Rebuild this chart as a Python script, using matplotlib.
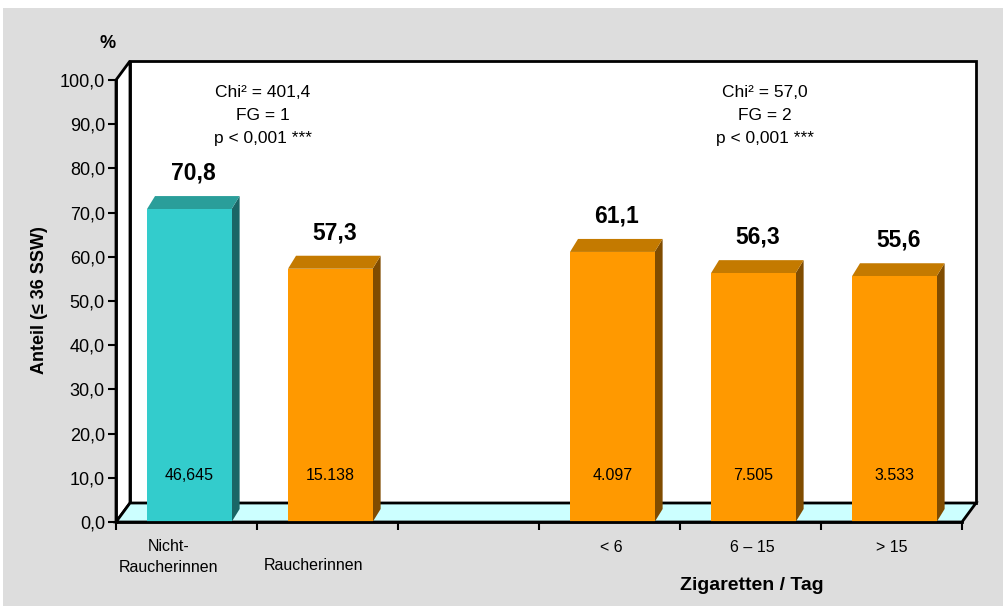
import matplotlib.pyplot as plt
from matplotlib.patches import Polygon, Rectangle
import matplotlib.transforms as mtransforms

plt.rcParams['font.family'] = ['Liberation Sans', 'DejaVu Sans']

# ------------------------------
# Data
# ------------------------------
categories = ["Nicht-\nRaucherinnen", "Raucherinnen", "", "< 6", "6 – 15", "> 15"]
slots = [0, 1, 3, 4, 5]
values = [70.8, 57.3, 61.1, 56.3, 55.6]
value_labels = ["70,8", "57,3", "61,1", "56,3", "55,6"]
n_labels = ["46,645", "15.138", "4.097", "7.505", "3.533"]
chi_left = "Chi² = 401,4\nFG = 1\np < 0,001 ***"
chi_right = "Chi² = 57,0\nFG = 2\np < 0,001 ***"
yticks = [0, 10, 20, 30, 40, 50, 60, 70, 80, 90, 100]

# colours: front, top, side
TEAL = ("#33CCCC", "#2A9E9A", "#1A6666")
ORANGE = ("#FF9900", "#C47A00", "#804C00")
bar_colors = [TEAL, ORANGE, ORANGE, ORANGE, ORANGE]

W, H = 1004, 606
fig = plt.figure(figsize=(W / 100, H / 100), dpi=100)
fig.patch.set_facecolor("white")
fig.patches.append(Rectangle((3 / W, 0), 1, 1 - 8 / H, transform=fig.transFigure,
                             facecolor="#DDDDDD", edgecolor="none", zorder=-10))

# front plane of the chart
L, R, B, T = 116, 962, 522, 80
ax = fig.add_axes([L / W, (H - B) / H, (R - L) / W, (B - T) / H])
ax.set_xlim(0, 6)
ax.set_ylim(0, 100)
ax.patch.set_alpha(0)

pxx = (R - L) / 6.0     # px per x unit
pxy = (B - T) / 100.0   # px per y unit
fdx, fdy = 14 / pxx, 19 / pxy   # depth of the floor / walls
bdx, bdy = 8 / pxx, 13 / pxy    # depth of the bars

# walls and floor
ax.add_patch(Polygon([(fdx, fdy), (6 + fdx, fdy), (6 + fdx, 100 + fdy), (fdx, 100 + fdy)],
                     closed=True, facecolor="white", edgecolor="black", lw=2, clip_on=False, zorder=1))
ax.add_patch(Polygon([(0, 0), (fdx, fdy), (fdx, 100 + fdy), (0, 100)],
                     closed=True, facecolor="white", edgecolor="black", lw=2, clip_on=False, zorder=1))
ax.add_patch(Polygon([(0, 0), (6, 0), (6 + fdx, fdy), (fdx, fdy)],
                     closed=True, facecolor="#CCFFFF", edgecolor="black", lw=2, clip_on=False, zorder=1))

# bars
bw = 0.6
for s, v, c in zip(slots, values, bar_colors):
    x0 = s + 0.5 - bw / 2 + 0.02
    x1 = x0 + bw
    ax.add_patch(Polygon([(x1, 0), (x1 + bdx, bdy), (x1 + bdx, v + bdy), (x1, v)],
                         closed=True, facecolor=c[2], edgecolor="none", clip_on=False, zorder=3))
    ax.add_patch(Polygon([(x0, v), (x1, v), (x1 + bdx, v + bdy), (x0 + bdx, v + bdy)],
                         closed=True, facecolor=c[1], edgecolor="none", clip_on=False, zorder=3))
    ax.add_patch(Rectangle((x0, 0), bw, v, facecolor=c[0], edgecolor="none", clip_on=False, zorder=4))

for s, v, lab, nl in zip(slots, values, value_labels, n_labels):
    xc = s + 0.5 + 0.02
    ax.text(xc + 4 / pxx, v + 36 / pxy, lab, ha="center", va="center",
            fontsize=16.5, fontweight="bold", zorder=5)
    ax.text(xc, 47 / pxy, nl, ha="center", va="center", fontsize=11.5, zorder=5)

ax.text(1.04, 92.0, chi_left, ha="center", va="center", fontsize=12.5, linespacing=1.65, zorder=5)
ax.text(4.6, 92.0, chi_right, ha="center", va="center", fontsize=12.5, linespacing=1.65, zorder=5)

# axes
for side in ["top", "right"]:
    ax.spines[side].set_visible(False)
for side in ["left", "bottom"]:
    ax.spines[side].set_linewidth(2)
    ax.spines[side].set_zorder(6)
ax.set_yticks(yticks)
ax.set_yticklabels([f"{t:.1f}".replace(".", ",") for t in yticks], fontsize=13)
ax.set_xticks(range(7))
ax.set_xticklabels([])
ax.tick_params(axis="both", direction="out", length=6, width=1.5, color="black")
ax.tick_params(axis="y", pad=2)

# category labels
trans = mtransforms.blended_transform_factory(ax.transData, ax.transAxes)
cat_shift = [-0.13, -0.1, 0, 0.01, 0.015, 0.005]
cat_y = [557, 566, 547, 547, 547, 547]
for i, (cat, sh, yp) in enumerate(zip(categories, cat_shift, cat_y)):
    if not cat:
        continue
    ax.text(i + 0.5 + sh, -(yp - B) / (B - T), cat, transform=trans, ha="center",
            va="center", fontsize=11.5, linespacing=1.45)

fig.text(108 / W, 1 - 44 / H, "%", ha="center", va="center", fontsize=13, fontweight="bold")
fig.text(40 / W, 1 - 300 / H, "Anteil (≤ 36 SSW)", rotation=90, ha="center", va="center",
         fontsize=13, fontweight="bold")
fig.text(752 / W, 1 - 586 / H, "Zigaretten / Tag", ha="center", va="center",
         fontsize=14, fontweight="bold")

fig.savefig("out.png", dpi=100)
